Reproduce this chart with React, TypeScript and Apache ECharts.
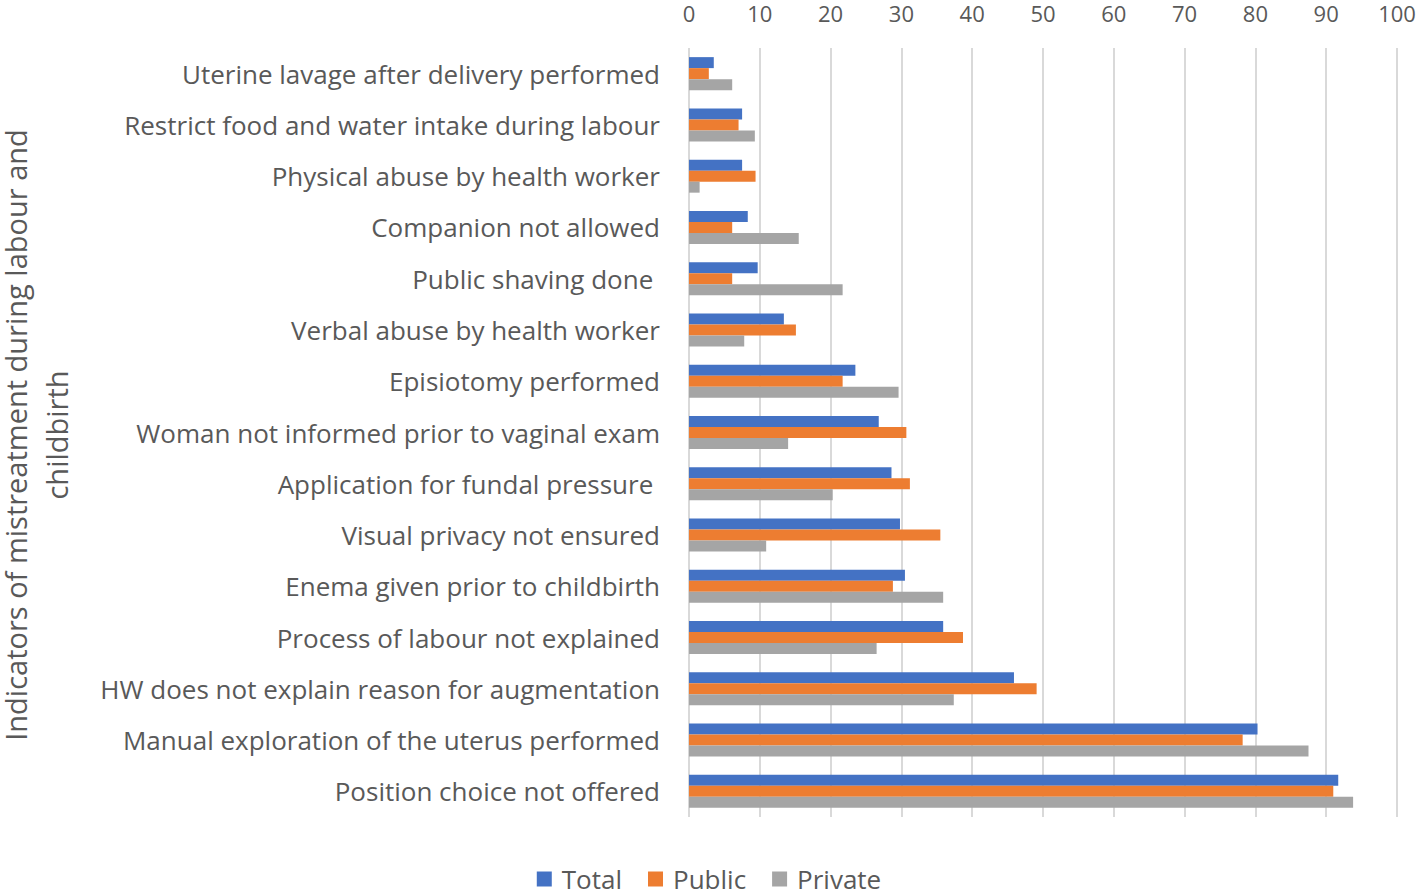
import React, { useEffect, useRef } from "react";
import * as echarts from "echarts";

const categories = [
  "Uterine lavage after delivery performed",
  "Restrict food and water intake during labour",
  "Physical abuse by health worker",
  "Companion not allowed",
  "Public shaving done ",
  "Verbal abuse by health worker",
  "Episiotomy performed",
  "Woman not informed prior to vaginal exam",
  "Application for fundal pressure ",
  "Visual privacy not ensured",
  "Enema given prior to childbirth",
  "Process of labour not explained",
  "HW does not explain reason for augmentation",
  "Manual exploration of the uterus performed",
  "Position choice not offered",
];

const totalValues = [3.5, 7.5, 7.5, 8.3, 9.7, 13.4, 23.5, 26.8, 28.6, 29.8, 30.5, 35.9, 45.9, 80.3, 91.7];
const publicValues = [2.8, 7.0, 9.4, 6.1, 6.1, 15.1, 21.7, 30.7, 31.2, 35.5, 28.8, 38.7, 49.1, 78.2, 91.0];
const privateValues = [6.1, 9.3, 1.5, 15.5, 21.7, 7.8, 29.6, 14.0, 20.3, 10.9, 35.9, 26.5, 37.4, 87.5, 93.8];

const seriesNames = ["Total", "Public", "Private"];
const colors = ["#4472C4", "#ED7D31", "#A5A5A5"];
const yAxisTitleLines = ["Indicators of mistreatment during labour and", "childbirth"];

const FONT = "Open Sans";

export default function App() {
  const ref = useRef<HTMLDivElement>(null);
  useEffect(() => {
    const chart = echarts.init(ref.current!, null, { renderer: "svg" });
    const data = [totalValues, publicValues, privateValues];
    chart.setOption({
      animation: false,
      textStyle: { fontFamily: FONT },
      grid: { left: 689, right: 21, top: 48, bottom: 75, outerBoundsMode: "none", containLabel: false },
      legend: {
        top: 861,
        left: "center",
        itemWidth: 15,
        itemHeight: 15,
        itemGap: 26,
        icon: "rect",
        textStyle: { fontSize: 26, color: "#595959", fontFamily: FONT, padding: [0, 0, 0, 5] },
        data: seriesNames,
      },
      xAxis: {
        type: "value",
        position: "top",
        min: 0,
        max: 100,
        interval: 10,
        axisLine: { show: false },
        axisTick: { show: false },
        axisLabel: { fontSize: 22, color: "#595959", margin: 24, fontFamily: FONT },
        splitLine: { show: true, lineStyle: { color: "#D9D9D9", width: 2 } },
      },
      yAxis: {
        type: "category",
        inverse: true,
        data: categories,
        axisLine: { show: false },
        axisTick: { show: false },
        axisLabel: { fontSize: 26, color: "#595959", margin: 29, fontFamily: FONT },
      },
      graphic: yAxisTitleLines.map((line, i) => ({
        type: "text",
        x: 15 + i * 41,
        y: 435,
        rotation: Math.PI / 2,
        style: {
          text: line,
          fontSize: 29,
          fill: "#595959",
          fontFamily: FONT,
          textAlign: "center",
          textVerticalAlign: "middle",
        },
      })),
      series: seriesNames.map((name, i) => ({
        name,
        type: "bar",
        data: data[i],
        barWidth: 11,
        barGap: "0%",
        itemStyle: { color: colors[i] },
      })),
    });
    return () => chart.dispose();
  }, []);
  return (
    <div
      ref={ref}
      style={{ position: "absolute", left: 0, top: 0, width: 1418, height: 892 }}
    />
  );
}
